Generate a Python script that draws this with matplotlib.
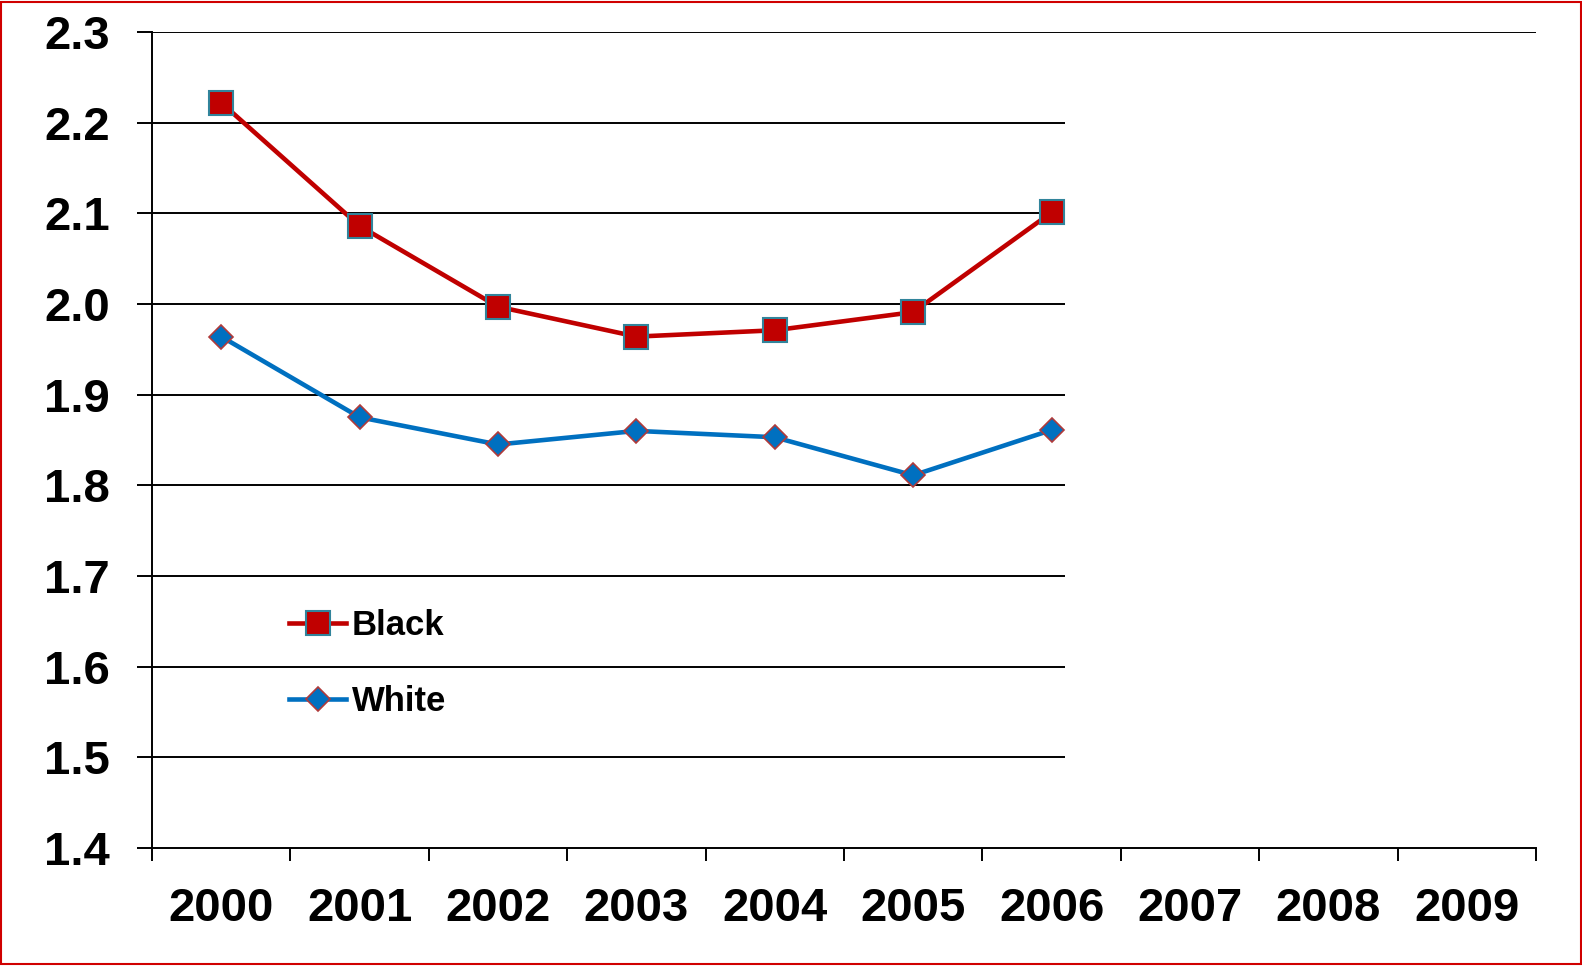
import matplotlib
matplotlib.use("Agg")
import matplotlib.pyplot as plt
from matplotlib.patches import Rectangle

plt.rcParams['font.family'] = ['Liberation Sans', 'DejaVu Sans']
plt.rcParams['font.weight'] = 'bold'

# data
years = ['2000', '2001', '2002', '2003', '2004', '2005', '2006', '2007', '2008', '2009']
black = [2.222, 2.086, 1.997, 1.964, 1.971, 1.991, 2.101]
white = [1.964, 1.875, 1.845, 1.860, 1.853, 1.811, 1.861]
yticks = [1.4, 1.5, 1.6, 1.7, 1.8, 1.9, 2.0, 2.1, 2.2, 2.3]

fig = plt.figure(figsize=(15.82, 9.66), dpi=100)
ax = fig.add_axes([0.0961, 0.1222, 0.8748, 0.8447])

# grid lines stop just past the last data year, top one runs the full width
for v in yticks[1:-1]:
    ax.hlines(v, -0.5, 6.1, color='black', lw=1.4, zorder=1)
ax.hlines(yticks[-1], -0.5, len(years) - 0.5, color='black', lw=1.4, zorder=1)

x = list(range(len(black)))
ax.plot(x, black, color='#C00000', lw=3.3, marker='s', ms=17,
        mfc='#C00000', mec='#31849B', mew=1.5, label='Black', zorder=3)
ax.plot(x, white, color='#0070C0', lw=3.3, marker='D', ms=12,
        mfc='#0070C0', mec='#B03A3A', mew=1.2, label='White', zorder=3)

ax.set_xlim(-0.5, len(years) - 0.5)
ax.set_ylim(1.4, 2.3)
ax.set_yticks(yticks)
ax.set_yticklabels([f'{v:.1f}' for v in yticks])
ax.set_xticks(range(len(years)))
ax.set_xticklabels(years)
ax.set_xticks([i - 0.5 for i in range(len(years) + 1)], minor=True)

ax.tick_params(axis='x', which='major', length=0, pad=28, labelsize=34)
ax.tick_params(axis='x', which='minor', length=9.5, width=1.4, direction='out')
ax.tick_params(axis='y', length=10.5, width=1.4, direction='out', pad=20, labelsize=34)

for s in ['top', 'right']:
    ax.spines[s].set_visible(False)
for s in ['left', 'bottom']:
    ax.spines[s].set_linewidth(1.4)

leg = ax.legend(loc='upper left', bbox_to_anchor=(0.0990, 0.293), frameon=False,
                fontsize=25, handlelength=1.65, handletextpad=0.15,
                labelspacing=1.25, borderpad=0, borderaxespad=0)

# red frame around the whole picture
fig.patches.append(Rectangle((0.0006, 0.002), 0.9988, 0.9959, transform=fig.transFigure,
                             fill=False, edgecolor='#D00000', lw=1.5))

fig.savefig('out.png', dpi=100)
